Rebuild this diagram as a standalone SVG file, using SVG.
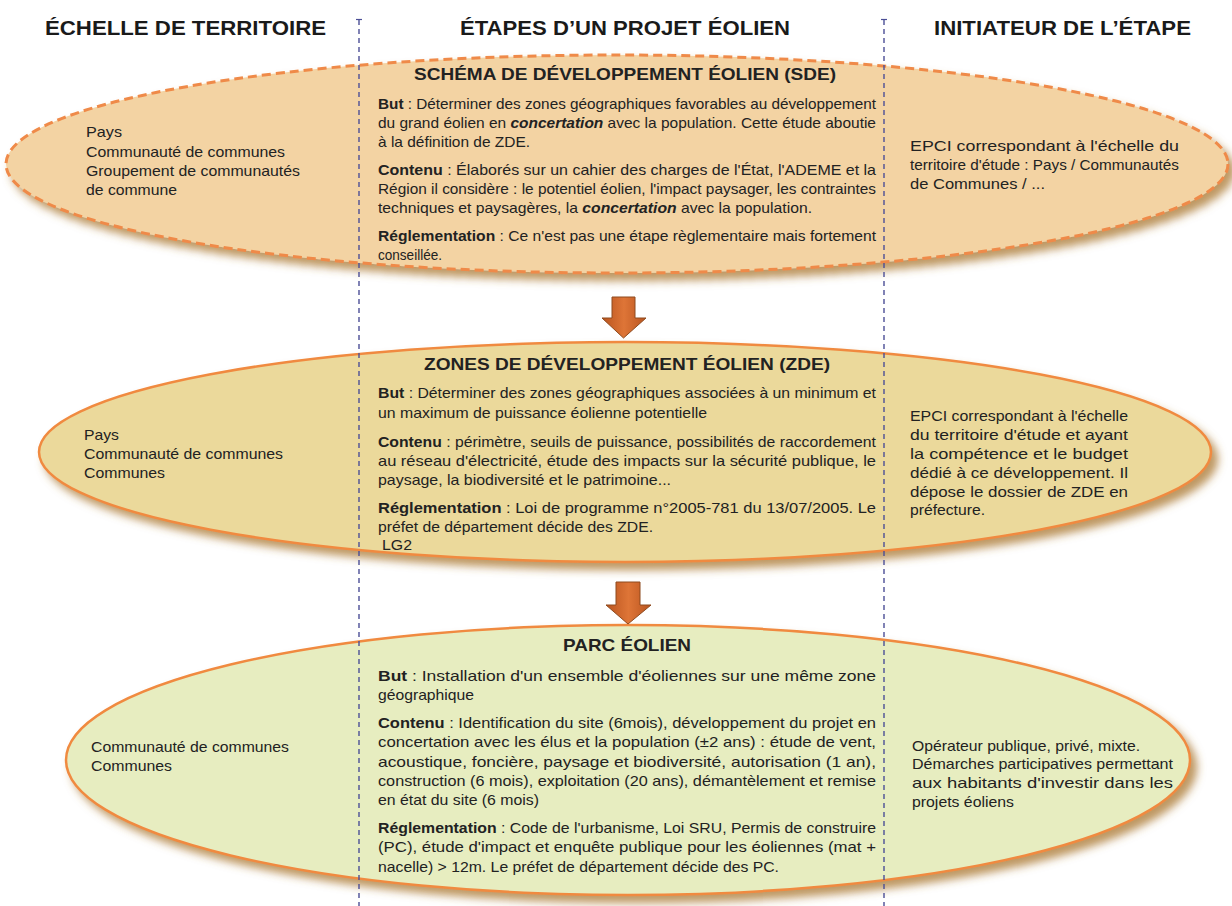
<svg xmlns="http://www.w3.org/2000/svg" width="1232" height="906" viewBox="0 0 1232 906">
<defs>
<filter id="sh" x="-5%" y="-10%" width="110%" height="130%">
<feGaussianBlur in="SourceAlpha" stdDeviation="4"/>
<feOffset dx="6" dy="7" result="o"/>
<feFlood flood-color="#a9762e" flood-opacity="0.75"/>
<feComposite in2="o" operator="in"/>
<feMerge><feMergeNode/><feMergeNode in="SourceGraphic"/></feMerge>
</filter>
<linearGradient id="ag" x1="0" y1="0" x2="1" y2="0">
<stop offset="0" stop-color="#b9541f"/><stop offset="0.5" stop-color="#de7537"/><stop offset="1" stop-color="#b9541f"/>
</linearGradient>
</defs>
<style>
.h{font-family:"Liberation Sans",Arial,sans-serif;font-weight:bold;font-size:20.5px;fill:#1a1a1a}
.t{font-family:"Liberation Sans",Arial,sans-serif;font-weight:bold;font-size:17px;fill:#222}
.b{font-family:"Liberation Sans",Arial,sans-serif;font-size:14.5px;fill:#222}
.bl{font-weight:bold}
.bi{font-weight:bold;font-style:italic}
.e1{fill:#f3d3a3;stroke:#ef8a48;stroke-width:3;stroke-dasharray:9 5}
.e2{fill:#ebd99b;stroke:#f08a40;stroke-width:2.5}
.e3{fill:#e7edc0;stroke:#f08a40;stroke-width:2.5}
.vl{stroke:#4c4f96;stroke-width:1.4;stroke-dasharray:5 4;fill:none}
.ar{fill:url(#ag);stroke:#8e4a1e;stroke-width:1}
</style>
<rect width="1232" height="906" fill="#ffffff"/>

<g id="headers">
<text class="h" x="45" y="35" textLength="281" lengthAdjust="spacingAndGlyphs">ÉCHELLE DE TERRITOIRE</text>
<text class="h" x="460" y="35" textLength="330" lengthAdjust="spacingAndGlyphs">ÉTAPES D’UN PROJET ÉOLIEN</text>
<text class="h" x="934" y="35" textLength="257" lengthAdjust="spacingAndGlyphs">INITIATEUR DE L’ÉTAPE</text>
</g>

<g id="node-sde">
<ellipse class="e1" cx="617" cy="164" rx="611" ry="109" filter="url(#sh)"/>
<text class="t" x="414" y="80" textLength="422" lengthAdjust="spacingAndGlyphs">SCHÉMA DE DÉVELOPPEMENT ÉOLIEN (SDE)</text>
<g class="b">
<text x="378" y="109" textLength="498" lengthAdjust="spacingAndGlyphs"><tspan class="bl">But</tspan> : Déterminer des zones géographiques favorables au développement</text>
<text x="378" y="128" textLength="498" lengthAdjust="spacingAndGlyphs">du grand éolien en <tspan class="bi">concertation</tspan> avec la population. Cette étude aboutie</text>
<text x="378" y="147" textLength="152" lengthAdjust="spacingAndGlyphs">à la définition de ZDE.</text>
<text x="378" y="175" textLength="498" lengthAdjust="spacingAndGlyphs"><tspan class="bl">Contenu</tspan> : Élaborés sur un cahier des charges de l'État, l'ADEME et la</text>
<text x="378" y="194" textLength="498" lengthAdjust="spacingAndGlyphs">Région il considère : le potentiel éolien, l'impact paysager, les contraintes</text>
<text x="378" y="213" textLength="434" lengthAdjust="spacingAndGlyphs">techniques et paysagères, la <tspan class="bi">concertation</tspan> avec la population.</text>
<text x="378" y="241" textLength="498" lengthAdjust="spacingAndGlyphs"><tspan class="bl">Réglementation</tspan> : Ce n'est pas une étape règlementaire mais fortement</text>
<text x="378" y="260" textLength="64" lengthAdjust="spacingAndGlyphs">conseillée.</text>
<text x="86" y="137" textLength="36" lengthAdjust="spacingAndGlyphs">Pays</text>
<text x="86" y="157" textLength="199" lengthAdjust="spacingAndGlyphs">Communauté de communes</text>
<text x="86" y="176" textLength="214" lengthAdjust="spacingAndGlyphs">Groupement de communautés</text>
<text x="86" y="195" textLength="91" lengthAdjust="spacingAndGlyphs">de commune</text>
<text x="910" y="151" textLength="269" lengthAdjust="spacingAndGlyphs">EPCI correspondant à l'échelle du</text>
<text x="910" y="170" textLength="269" lengthAdjust="spacingAndGlyphs">territoire d'étude : Pays / Communautés</text>
<text x="910" y="189" textLength="135" lengthAdjust="spacingAndGlyphs">de Communes /  ...</text>
</g>
</g>

<g id="node-zde">
<ellipse class="e2" cx="625" cy="452" rx="586" ry="110" filter="url(#sh)"/>
<text class="t" x="424" y="370" textLength="406" lengthAdjust="spacingAndGlyphs">ZONES DE DÉVELOPPEMENT ÉOLIEN (ZDE)</text>
<g class="b">
<text x="378" y="398" textLength="498" lengthAdjust="spacingAndGlyphs"><tspan class="bl">But</tspan> : Déterminer des zones géographiques associées à un minimum et</text>
<text x="378" y="418" textLength="329" lengthAdjust="spacingAndGlyphs">un maximum de puissance éolienne potentielle</text>
<text x="378" y="447" textLength="498" lengthAdjust="spacingAndGlyphs"><tspan class="bl">Contenu</tspan> : périmètre, seuils de puissance, possibilités de raccordement</text>
<text x="378" y="466" textLength="498" lengthAdjust="spacingAndGlyphs">au réseau d'électricité, étude des impacts sur la sécurité publique, le</text>
<text x="378" y="485" textLength="293" lengthAdjust="spacingAndGlyphs">paysage, la biodiversité et le patrimoine...</text>
<text x="378" y="513" textLength="498" lengthAdjust="spacingAndGlyphs"><tspan class="bl">Réglementation</tspan> : Loi de programme n°2005-781 du 13/07/2005. Le</text>
<text x="378" y="532" textLength="275" lengthAdjust="spacingAndGlyphs">préfet de département décide des ZDE.</text>
<text x="382" y="550" textLength="30" lengthAdjust="spacingAndGlyphs">LG2</text>
<text x="84" y="440" textLength="35" lengthAdjust="spacingAndGlyphs">Pays</text>
<text x="84" y="459" textLength="199" lengthAdjust="spacingAndGlyphs">Communauté de communes</text>
<text x="84" y="478" textLength="81" lengthAdjust="spacingAndGlyphs">Communes</text>
<text x="910" y="421" textLength="218" lengthAdjust="spacingAndGlyphs">EPCI correspondant à l'échelle</text>
<text x="910" y="440" textLength="218" lengthAdjust="spacingAndGlyphs">du territoire d'étude et ayant</text>
<text x="910" y="459" textLength="218" lengthAdjust="spacingAndGlyphs">la compétence et le budget</text>
<text x="910" y="478" textLength="218" lengthAdjust="spacingAndGlyphs">dédié à ce développement. Il</text>
<text x="910" y="497" textLength="218" lengthAdjust="spacingAndGlyphs">dépose le dossier de ZDE en</text>
<text x="910" y="515" textLength="75" lengthAdjust="spacingAndGlyphs">préfecture.</text>
</g>
</g>

<g id="node-parc">
<ellipse class="e3" cx="628" cy="760" rx="562" ry="135" filter="url(#sh)"/>
<text class="t" x="563" y="651" textLength="128" lengthAdjust="spacingAndGlyphs">PARC ÉOLIEN</text>
<g class="b">
<text x="378" y="681" textLength="498" lengthAdjust="spacingAndGlyphs"><tspan class="bl">But</tspan> : Installation d'un ensemble d'éoliennes sur une même zone</text>
<text x="378" y="700" textLength="96" lengthAdjust="spacingAndGlyphs">géographique</text>
<text x="378" y="728" textLength="498" lengthAdjust="spacingAndGlyphs"><tspan class="bl">Contenu</tspan> : Identification du site (6mois), développement du projet en</text>
<text x="378" y="747" textLength="498" lengthAdjust="spacingAndGlyphs">concertation avec les élus et la population (±2 ans) : étude de vent,</text>
<text x="378" y="767" textLength="498" lengthAdjust="spacingAndGlyphs">acoustique, foncière, paysage et biodiversité, autorisation (1 an),</text>
<text x="378" y="786" textLength="498" lengthAdjust="spacingAndGlyphs">construction (6 mois), exploitation (20 ans), démantèlement et remise</text>
<text x="378" y="805" textLength="161" lengthAdjust="spacingAndGlyphs">en état du site (6 mois)</text>
<text x="378" y="833" textLength="498" lengthAdjust="spacingAndGlyphs"><tspan class="bl">Réglementation</tspan> : Code de l'urbanisme, Loi SRU, Permis de construire</text>
<text x="378" y="852" textLength="498" lengthAdjust="spacingAndGlyphs">(PC), étude d'impact et enquête publique pour les éoliennes (mat +</text>
<text x="378" y="872" textLength="401" lengthAdjust="spacingAndGlyphs">nacelle) &gt; 12m. Le préfet de département décide des PC.</text>
<text x="91" y="752" textLength="198" lengthAdjust="spacingAndGlyphs">Communauté de communes</text>
<text x="91" y="771" textLength="81" lengthAdjust="spacingAndGlyphs">Communes</text>
<text x="912" y="751" textLength="228" lengthAdjust="spacingAndGlyphs">Opérateur publique, privé, mixte.</text>
<text x="912" y="769" textLength="261" lengthAdjust="spacingAndGlyphs">Démarches participatives permettant</text>
<text x="912" y="788" textLength="261" lengthAdjust="spacingAndGlyphs">aux habitants d'investir dans les</text>
<text x="912" y="807" textLength="102" lengthAdjust="spacingAndGlyphs">projets éoliens</text>
</g>
</g>

<g id="column-lines">
<line class="vl" x1="359" y1="20" x2="359" y2="906"/>
<line x1="356" y1="19.5" x2="362" y2="19.5" stroke="#4c4f96" stroke-width="1.2"/>
<line class="vl" x1="884" y1="20" x2="884" y2="906"/>
<line x1="881" y1="19.5" x2="887" y2="19.5" stroke="#4c4f96" stroke-width="1.2"/>
</g>

<g id="connectors">
<path class="ar" d="M612,297 H635 V318 H646 L623.5,338 L602,318 H612 Z"/>
<path class="ar" d="M616,582 H640 V605 H651 L628,624 L606,605 H616 Z"/>
</g>
</svg>
